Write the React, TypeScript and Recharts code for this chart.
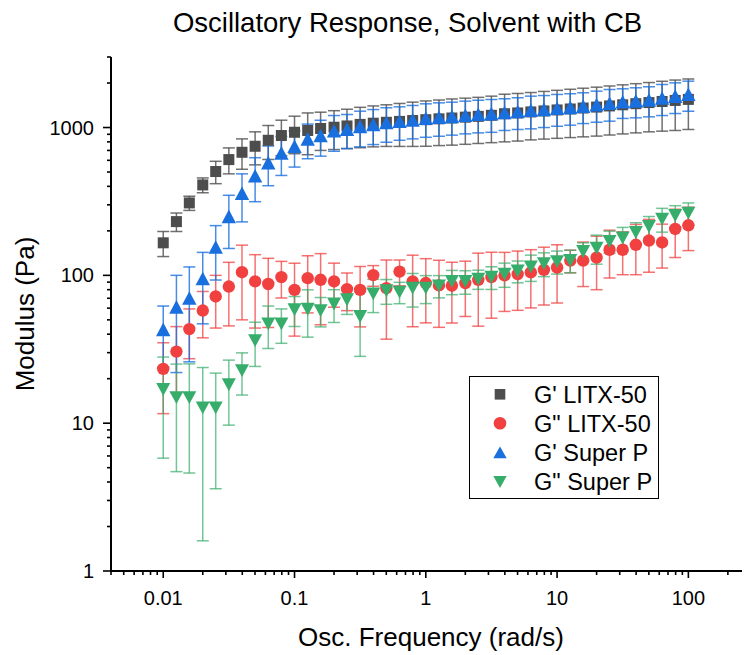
import React from 'react';
import { ScatterChart, Scatter, XAxis, YAxis, ErrorBar, Legend } from 'recharts';

// ---------- data ----------
const frequency = [
  0.01, 0.0126, 0.0158, 0.02, 0.0251, 0.0316, 0.0398, 0.0501, 0.0631, 0.0794,
  0.1, 0.126, 0.158, 0.2, 0.251, 0.316, 0.398, 0.501, 0.631, 0.794,
  1, 1.26, 1.58, 2, 2.51, 3.16, 3.98, 5.01, 6.31, 7.94,
  10, 12.6, 15.8, 20, 25.1, 31.6, 39.8, 50.1, 63.1, 79.4, 100,
];

const gPrimeLitx = [
  166, 231, 309, 409, 504, 607, 680, 747, 820, 883,
  929, 955, 985, 1005, 1025, 1050, 1070, 1085, 1100, 1115,
  1130, 1145, 1160, 1175, 1190, 1210, 1240, 1255, 1275, 1295,
  1315, 1335, 1355, 1375, 1400, 1425, 1450, 1475, 1500, 1525, 1550,
];
const gPrimeLitxErr = [
  32, 33, 34, 47, 87, 121, 158, 188, 212, 238,
  264, 300, 285, 295, 305, 320, 330, 340, 355, 370,
  383, 390, 400, 405, 410, 420, 440, 445, 450, 460,
  470, 480, 490, 500, 510, 520, 530, 540, 555, 570, 580,
];

const gDoubleLitx = [
  23.3, 30.5, 43.3, 57.8, 72, 84, 105, 91, 87.4, 97.3,
  79.8, 95.7, 93.3, 90.9, 80.7, 79.8, 100.4, 82, 106, 90.9,
  88.7, 85.5, 85.1, 88.7, 93.3, 97.3, 100, 102, 104.7, 109,
  113, 126, 126, 132, 149, 149, 161, 172, 167, 206, 218,
];
const gDoubleLitxErr = [
  11.7, 14.5, 16, 20, 28, 38.5, 55, 47, 43, 27,
  41, 40, 47, 30, 23, 35, 16, 45, 21, 46,
  41, 41, 37.5, 36, 48, 46, 43, 44, 44.5, 46,
  48, 22, 42, 52, 53, 48, 60, 67, 55, 74, 71,
];

const gPrimeSuperP = [
  43, 61, 70, 95, 155, 250, 358, 470, 577, 672,
  745, 835, 880, 948, 973, 1015, 1045, 1078, 1100, 1124,
  1153, 1171, 1186, 1207, 1225, 1238, 1260, 1280, 1305, 1323,
  1347, 1365, 1391, 1424, 1456, 1490, 1510, 1534, 1580, 1625, 1674,
];
const gPrimeSuperPErr = [
  19, 39, 44, 48, 62, 98, 128, 155, 173, 198,
  205, 220, 240, 257, 252, 275, 278, 283, 280, 286,
  294, 298, 298, 301, 305, 310, 305, 310, 325, 323,
  327, 328, 327, 338, 352, 338, 347, 353, 375, 381, 385,
];

const gDoubleSuperP = [
  16.9, 14.9, 14.9, 12.7, 12.7, 18.2, 22.7, 36.2, 47, 47,
  58.5, 59, 57.8, 64, 68.4, 52.7, 75, 78.7, 77, 82,
  82, 85, 91, 91, 94.4, 97.3, 102, 107, 114, 120,
  124, 126, 145, 153, 170, 179, 195, 214, 240, 254, 264,
];
const gDoubleSuperPErr = [
  11.1, 10.2, 10.3, 11.1, 9.1, 8.5, 7.2, 12, 15, 12.3,
  13.4, 20.8, 13, 16, 14, 24.4, 19, 15, 12.7, 21,
  17.6, 14.6, 17, 16.5, 14, 17, 19, 18, 23, 22,
  22, 22, 21, 34, 29, 32, 32, 36, 44, 42, 45,
];

const seriesNames = ["G' LITX-50", 'G" LITX-50', "G' Super P", 'G" Super P'];

const xMajorTicks = [0.01, 0.1, 1, 10, 100];
const xTickLabels = ['0.01', '0.1', '1', '10', '100'];
const yMajorTicks = [1, 10, 100, 1000];
const yTickLabels = ['1', '10', '100', '1000'];
const minorMultipliers = [2, 3, 4, 5, 6, 7, 8, 9];
const xDecades = [0.001, 0.01, 0.1, 1, 10, 100];
const yDecades = [1, 10, 100, 1000];
const xDomain = [0.004, 300];
const yDomain = [1, 3000];

// ---------- styling ----------
const FONT = "'Liberation Sans', Arial, Helvetica, sans-serif";
const GREY = '#4d4d4d';
const RED = '#f14040';
const BLUE = '#1a6fdf';
const GREEN = '#37ad6b';
const seriesColors = [GREY, RED, BLUE, GREEN];

const round = (v: number) => Number(v.toPrecision(6));
const buildTicks = (decades: number[], majors: number[], lo: number, hi: number) => {
  const all: number[] = [...majors];
  decades.forEach((d) => {
    minorMultipliers.forEach((m) => {
      const v = round(d * m);
      if (v >= lo - 1e-12 && v <= hi + 1e-9) all.push(v);
    });
  });
  return all.sort((a, b) => a - b);
};
const xTicks = buildTicks(xDecades, xMajorTicks, xDomain[0], xDomain[1]);
const yTicks = buildTicks(yDecades, yMajorTicks, yDomain[0], yDomain[1]);

const isMajor = (list: number[], v: number) => list.findIndex((m) => Math.abs(m - v) / m < 1e-6);

const build = (vals: number[], errs: number[]) =>
  frequency.map((f, i) => ({ f, v: vals[i], err: errs[i] }));

const dataGPL = build(gPrimeLitx, gPrimeLitxErr);
const dataGDL = build(gDoubleLitx, gDoubleLitxErr);
const dataGPS = build(gPrimeSuperP, gPrimeSuperPErr);
const dataGDS = build(gDoubleSuperP, gDoubleSuperPErr);

// ---------- shapes ----------
const SquareShape = (p: any) => (
  <rect x={p.cx - 5.5} y={p.cy - 5.5} width={11} height={11} fill={GREY} />
);
const CircleShape = (p: any) => <circle cx={p.cx} cy={p.cy} r={6.2} fill={RED} />;
const TriUpShape = (p: any) => (
  <polygon
    points={`${p.cx},${p.cy - 7} ${p.cx + 7.2},${p.cy + 6.6} ${p.cx - 7.2},${p.cy + 6.6}`}
    fill={BLUE}
  />
);
const TriDownShape = (p: any) => (
  <polygon
    points={`${p.cx - 7},${p.cy - 6.4} ${p.cx + 7},${p.cy - 6.4} ${p.cx},${p.cy + 6.4}`}
    fill={GREEN}
  />
);

const legendShapes = [
  (x: number, y: number, c: string) => <rect x={x - 5.3} y={y - 5.3} width={10.6} height={10.6} fill={c} />,
  (x: number, y: number, c: string) => <circle cx={x} cy={y} r={6.3} fill={c} />,
  (x: number, y: number, c: string) => (
    <polygon points={`${x},${y - 6.2} ${x + 6.7},${y + 5.6} ${x - 6.7},${y + 5.6}`} fill={c} />
  ),
  (x: number, y: number, c: string) => (
    <polygon points={`${x - 6.7},${y - 5.6} ${x + 6.7},${y - 5.6} ${x},${y + 6.2}`} fill={c} />
  ),
];

// ---------- ticks ----------
const XTick = (props: any) => {
  const { x, y, payload } = props;
  const idx = isMajor(xMajorTicks, payload.value);
  const major = idx >= 0;
  return (
    <g>
      <line x1={x} x2={x} y1={y} y2={y + (major ? 7 : 4)} stroke="#000" strokeWidth={1.6} />
      {major && (
        <text x={x} y={y + 34} textAnchor="middle" fontSize={20} fontFamily={FONT} fill="#000">
          {xTickLabels[idx]}
        </text>
      )}
    </g>
  );
};

const YTick = (props: any) => {
  const { x, y, payload } = props;
  const idx = isMajor(yMajorTicks, payload.value);
  const major = idx >= 0;
  return (
    <g>
      <line x1={x - (major ? 8 : 4)} x2={x} y1={y} y2={y} stroke="#000" strokeWidth={1.6} />
      {major && (
        <text x={x - 17} y={y} dy="0.35em" textAnchor="end" fontSize={20} fontFamily={FONT} fill="#000">
          {yTickLabels[idx]}
        </text>
      )}
    </g>
  );
};

const renderLegend = (props: any) => {
  const payload = props.payload || [];
  const rows = [17.3, 46.3, 75.7, 104.7];
  return (
    <div
      style={{
        width: 190,
        height: 123,
        border: '1px solid #000',
        boxSizing: 'border-box',
        background: '#fff',
      }}
    >
      <svg width={188} height={121} style={{ display: 'block' }}>
        {seriesNames.map((name, i) => {
          const entry = payload.find((e: any) => e.value === name);
          const color = (entry && entry.color) || seriesColors[i];
          return (
            <g key={name}>
              {legendShapes[i](30, rows[i], color)}
              <text x={64} y={rows[i] + 8.5} fontSize={23.5} fontFamily={FONT} fill="#000">
                {name}
              </text>
            </g>
          );
        })}
      </svg>
    </div>
  );
};

export default function App() {
  return (
    <div style={{ width: 742, height: 647, overflow: 'hidden' }}>
      <ScatterChart width={745} height={647} margin={{ top: 49, right: 2, bottom: 0, left: 0 }}>
        <XAxis
          dataKey="f"
          type="number"
          scale="log"
          domain={xDomain}
          allowDataOverflow
          ticks={xTicks}
          interval={0}
          tick={<XTick />}
          tickLine={false}
          tickSize={0}
          tickMargin={0}
          height={84}
          axisLine={{ stroke: '#000', strokeWidth: 2 }}
        />
        <YAxis
          dataKey="v"
          type="number"
          scale="log"
          domain={yDomain}
          allowDataOverflow
          ticks={yTicks}
          interval={0}
          tick={<YTick />}
          tickLine={false}
          tickSize={0}
          tickMargin={0}
          width={103}
          axisLine={{ stroke: '#000', strokeWidth: 2 }}
        />
        <Legend
          layout="vertical"
          align="center"
          verticalAlign="middle"
          content={renderLegend}
          wrapperStyle={{ left: 461, top: 368, width: 190, height: 123 }}
        />
        <Scatter name={seriesNames[0]} data={dataGPL} fill={GREY} shape={SquareShape} isAnimationActive={false}>
          <ErrorBar dataKey="err" direction="y" width={6} stroke={GREY} strokeOpacity={0.8} strokeWidth={1.5} />
        </Scatter>
        <Scatter name={seriesNames[1]} data={dataGDL} fill={RED} shape={CircleShape} isAnimationActive={false}>
          <ErrorBar dataKey="err" direction="y" width={6} stroke={RED} strokeOpacity={0.75} strokeWidth={1.5} />
        </Scatter>
        <Scatter name={seriesNames[2]} data={dataGPS} fill={BLUE} shape={TriUpShape} isAnimationActive={false}>
          <ErrorBar dataKey="err" direction="y" width={6} stroke={BLUE} strokeOpacity={0.8} strokeWidth={1.5} />
        </Scatter>
        <Scatter name={seriesNames[3]} data={dataGDS} fill={GREEN} shape={TriDownShape} isAnimationActive={false}>
          <ErrorBar dataKey="err" direction="y" width={6} stroke={GREEN} strokeOpacity={0.7} strokeWidth={1.5} />
        </Scatter>
        <text x={399.5} y={24} textAnchor="middle" fontSize={27.5} fontFamily={FONT} fill="#000">
          Oscillatory Response, Solvent with CB
        </text>
        <text x={423} y={638} textAnchor="middle" fontSize={26} fontFamily={FONT} fill="#000">
          Osc. Frequency (rad/s)
        </text>
        <text
          x={26}
          y={306}
          textAnchor="middle"
          fontSize={26}
          fontFamily={FONT}
          fill="#000"
          transform="rotate(-90, 26, 306)"
        >
          Modulus (Pa)
        </text>
      </ScatterChart>
    </div>
  );
}
